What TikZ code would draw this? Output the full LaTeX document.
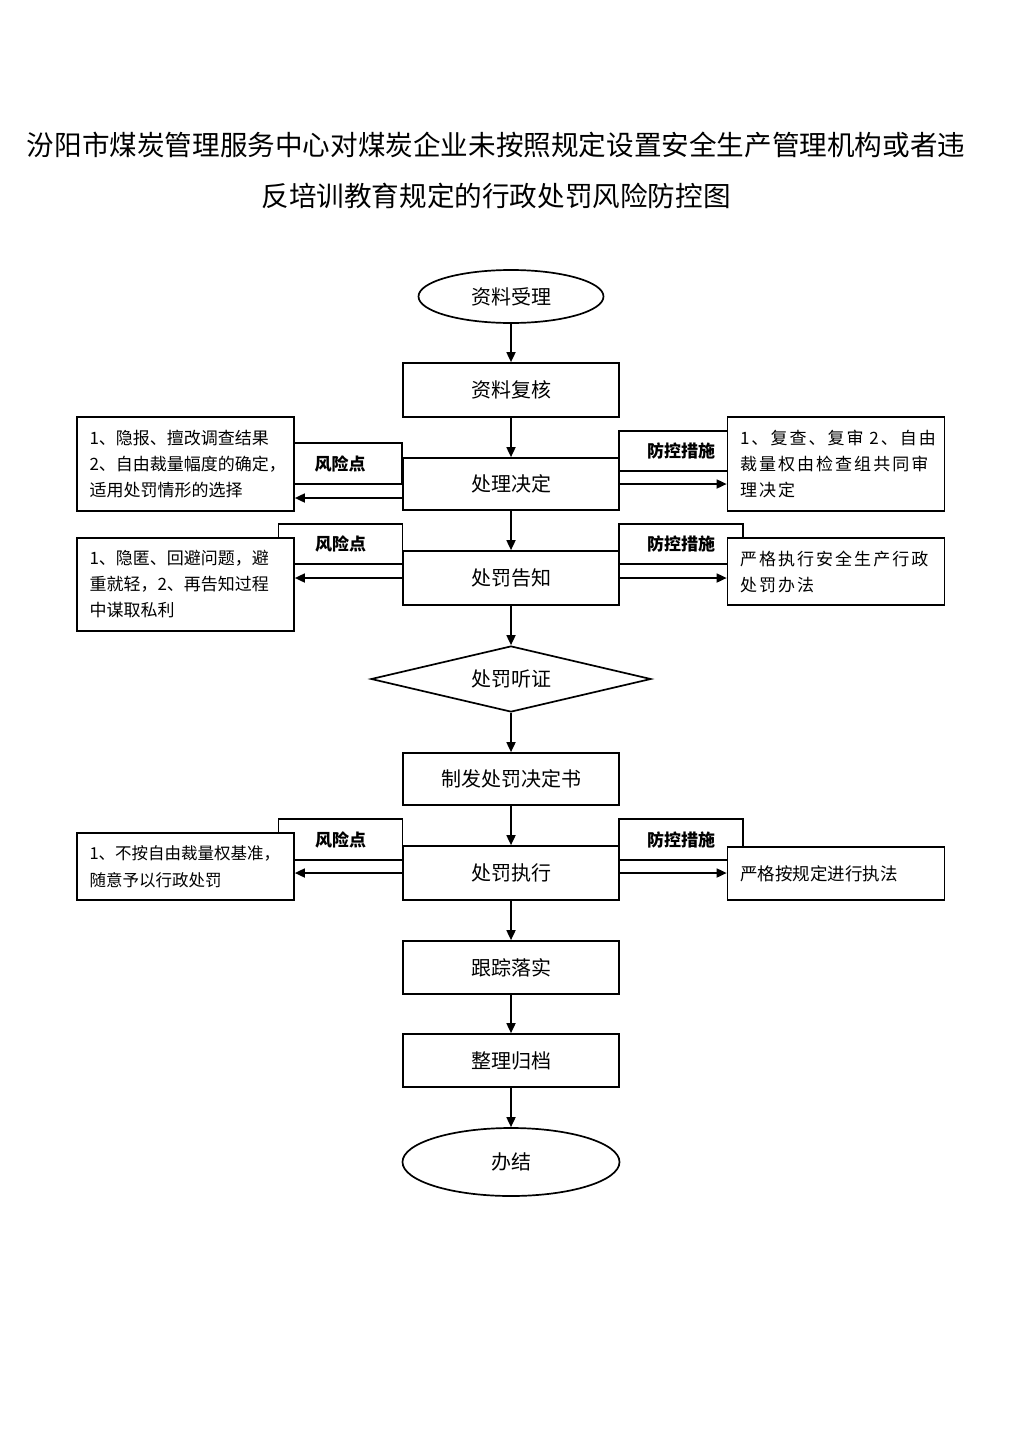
\documentclass[tikz,border=0pt]{standalone}
\usepackage{fontspec}
\setmainfont{Noto Sans CJK SC}
\newfontfamily\widecjk[LetterSpace=12]{Noto Sans CJK SC}
\usetikzlibrary{shapes.geometric,arrows.meta}
\tikzset{
  mainbox/.style={draw, line width=1.7pt, fill=white, minimum width=216pt, minimum height=53pt, inner sep=0pt, font=\fontsize{20}{24}\selectfont},
  lblbox/.style={draw, line width=1.7pt, fill=white, minimum width=124pt, minimum height=41pt, inner sep=0pt, font=\bfseries\fontsize{17}{20}\selectfont},
  sidebox/.style={draw, line width=1.7pt, fill=white, minimum width=217pt, text width=192pt, inner xsep=12.5pt, inner ysep=0pt, align=left, font=\fontsize{17}{26}\selectfont},
  arr/.style={line width=1.7pt, -{Triangle[length=10pt,width=9pt]}},
  titletext/.style={font=\fontsize{27.6}{30}\selectfont, inner sep=0pt}
}
\begin{document}
\begin{tikzpicture}[x=1pt,y=-1pt]
\useasboundingbox (0,0) rectangle (1024,1448);
% title
\node[titletext] (t1) at (496,145) {汾阳市煤炭管理服务中心对煤炭企业未按照规定设置安全生产管理机构或者违};
\node[titletext] (t2) at (496,196) {反培训教育规定的行政处罚风险防控图};
% label boxes (behind)
\node[lblbox, minimum height=41pt] (rl1) at (340,463.5) {风险点};
\node[lblbox, minimum height=40pt] (fk1) at (681,451) {防控措施};
\node[lblbox, minimum height=40pt] (rl2) at (340.5,544) {风险点};
\node[lblbox, minimum height=40pt] (fk2) at (681,544) {防控措施};
\node[lblbox, minimum height=41pt] (rl3) at (340.5,839.5) {风险点};
\node[lblbox, minimum height=41pt] (fk3) at (681,839.5) {防控措施};
% side boxes
\node[sidebox, minimum height=94pt] (L1) at (185.5,464) {1、隐报、擅改调查结果\\2、自由裁量幅度的确定，\\适用处罚情形的选择};
\node[sidebox, minimum height=94pt, font=\widecjk\fontsize{17}{26}\selectfont] (R1) at (836,464) {\mbox{1、复查、复审 2、自由}\\裁量权由检查组共同审\\理决定};
\node[sidebox, minimum height=93pt] (L2) at (185.5,584.5) {1、隐匿、回避问题，避\\重就轻，2、再告知过程\\中谋取私利};
\node[sidebox, minimum height=67pt, font=\widecjk\fontsize{17}{26}\selectfont] (R2) at (836,571.5) {严格执行安全生产行政\\处罚办法};
\node[sidebox, minimum height=67pt, font=\fontsize{16.5}{27}\selectfont] (L3) at (185.5,866.5) {1、不按自由裁量权基准，\\随意予以行政处罚};
\node[sidebox, minimum height=53pt, font=\fontsize{17.5}{26}\selectfont] (R3) at (836,873.5) {严格按规定进行执法};
% main flow
\node[mainbox, ellipse, minimum width=185pt, minimum height=53pt] (n1) at (511,296.5) {资料受理};
\node[mainbox, minimum height=54pt] (n2) at (511,390) {资料复核};
\node[mainbox, minimum height=52pt] (n3) at (511,484) {处理决定};
\node[mainbox, minimum height=54pt] (n4) at (511,578) {处罚告知};
\node[mainbox, diamond, aspect=4.24, minimum width=280pt, minimum height=66pt] (n5) at (511,679) {处罚听证};
\node[mainbox, minimum height=52pt] (n6) at (511,779) {制发处罚决定书};
\node[mainbox, minimum height=54pt] (n7) at (511,873) {处罚执行};
\node[mainbox, minimum height=53pt] (n8) at (511,967.5) {跟踪落实};
\node[mainbox, minimum height=53pt] (n9) at (511,1060.5) {整理归档};
\node[mainbox, ellipse, minimum width=217pt, minimum height=68pt] (n10) at (511,1162) {办结};
% vertical arrows
\draw[arr] (n1.south) -- (n2.north);
\draw[arr] (n2.south) -- (n3.north);
\draw[arr] (n3.south) -- (n4.north);
\draw[arr] (n4.south) -- (n5.north);
\draw[arr] (n5.south) -- (n6.north);
\draw[arr] (n6.south) -- (n7.north);
\draw[arr] (n7.south) -- (n8.north);
\draw[arr] (n8.south) -- (n9.north);
\draw[arr] (n9.south) -- (n10.north);
% side arrows
\coordinate (a1) at (0,498);
\coordinate (b1) at (0,484);
\coordinate (a2) at (0,578);
\coordinate (a3) at (0,873);
\draw[arr] (n3.west |- a1) -- (L1.east |- a1);
\draw[arr] (n3.east |- b1) -- (R1.west |- b1);
\draw[arr] (n4.west |- a2) -- (L2.east |- a2);
\draw[arr] (n4.east |- a2) -- (R2.west |- a2);
\draw[arr] (n7.west |- a3) -- (L3.east |- a3);
\draw[arr] (n7.east |- a3) -- (R3.west |- a3);
\end{tikzpicture}
\end{document}
